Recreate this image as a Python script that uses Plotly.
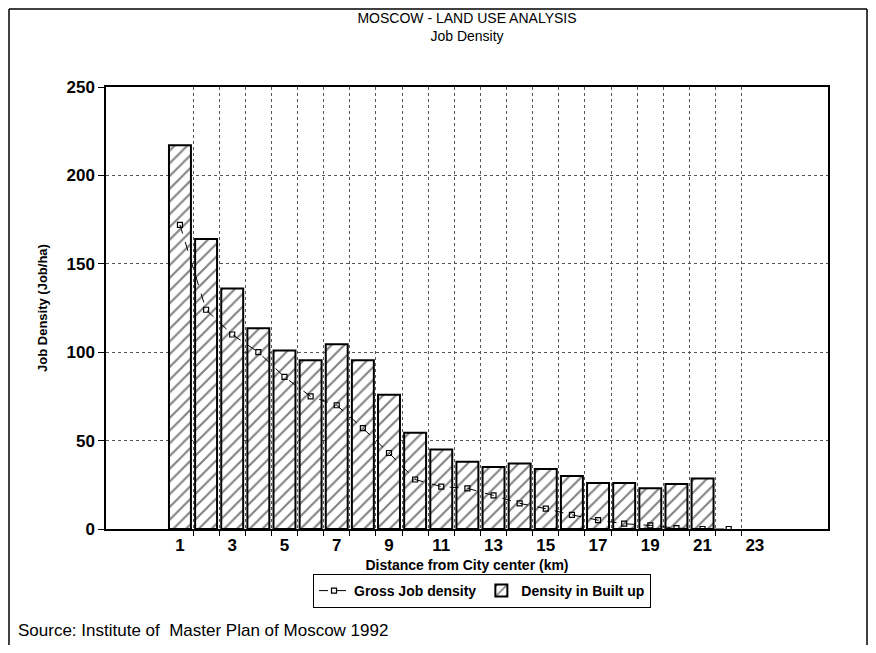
import plotly.graph_objects as go

# 距離 (km) と密度データ
distance_km = list(range(1, 23))
built_up_km = list(range(1, 22))
built_up_density = [217, 164, 136, 113.5, 101, 95.5, 104.5, 95.5, 76, 54.5, 45,
                    38, 35, 37, 34, 30, 26, 26, 23, 25.5, 28.5]
gross_density = [172, 124, 110, 100, 86, 75, 70, 57, 43, 28, 24,
                 23, 19, 14.5, 11.5, 8, 5, 3, 2, 0.5, 0, 0]
x_tick_labels = [1, 3, 5, 7, 9, 11, 13, 15, 17, 19, 21, 23]
y_tick_labels = [0, 50, 100, 150, 200, 250]

# ページの body マージン (8px) を差し引いた図のサイズ
OFF = 8
W, H = 876 - 2 * OFF, 653 - 2 * OFF
# プロット領域 (画面座標)
L, R, T, B = 106, 828, 87, 529


def px_x(px):
    return (px - L) / (R - L)


def px_y(py):
    return (B - py) / (B - T)


FONT = "Liberation Sans, Arial, sans-serif"

fig = go.Figure()

fig.add_trace(go.Scatter(
    x=distance_km,
    y=gross_density,
    name="Gross Job density",
    mode="lines+markers",
    line=dict(color="black", width=1, dash="dash"),
    marker=dict(symbol="square-open", size=5, color="black",
                line=dict(color="black", width=1.2)),
))

fig.add_trace(go.Bar(
    x=built_up_km,
    y=built_up_density,
    name="Density in Built up",
    width=0.84,
    marker=dict(
        color="white",
        line=dict(color="black", width=2),
        pattern=dict(shape="/", fgcolor="black", bgcolor="white",
                     size=9, solidity=0.22),
    ),
))

fig.update_layout(
    width=W, height=H,
    margin=dict(l=L - OFF, r=OFF + W - R, t=T - OFF, b=OFF + H - B, pad=0),
    paper_bgcolor="white",
    plot_bgcolor="white",
    font=dict(family=FONT, color="black"),
    title=dict(
        text="MOSCOW - LAND USE ANALYSIS<br>Job Density",
        x=0.5, xref="paper", xanchor="center",
        y=1 - (23 - OFF) / H, yanchor="middle",
        font=dict(size=14, family=FONT),
    ),
    showlegend=True,
    legend=dict(
        orientation="h",
        x=px_x(482), xanchor="center",
        y=px_y(574), yanchor="top",
        bordercolor="black", borderwidth=1,
        font=dict(size=14, family=FONT, weight="bold"),
        itemwidth=30,
        traceorder="normal",
    ),
    xaxis=dict(
        range=[-1.83, 25.8],
        tickvals=x_tick_labels,
        ticks="",
        showgrid=False,
        zeroline=False,
        showline=True, linecolor="black", linewidth=1.5, mirror=True,
        tickfont=dict(size=17, family=FONT, weight="bold"),
        title=dict(text="<b>Distance from City center (km)</b>",
                   font=dict(size=14, family=FONT), standoff=6),
        minor=dict(
            tickvals=[k + 0.5 for k in range(1, 23)],
            ticks="outside", ticklen=5, tickcolor="black",
            showgrid=True, gridcolor="#555", griddash="dot", gridwidth=1,
        ),
    ),
    yaxis=dict(
        range=[0, 250],
        tickvals=y_tick_labels,
        ticks="outside", ticklen=6, tickcolor="black",
        showgrid=True, gridcolor="#555", griddash="dot", gridwidth=1,
        zeroline=False,
        showline=True, linecolor="black", linewidth=1.5, mirror=True,
        tickfont=dict(size=17, family=FONT, weight="bold"),
        title=dict(text="<b>Job Density (Job/ha)</b>",
                   font=dict(size=13, family=FONT), standoff=16),
    ),
)

# 外枠 (左・上・右)
frame_l, frame_r, frame_t = OFF + 1, OFF + W - 1, OFF + 1
for x0, y0, x1, y1 in [(frame_l, frame_t, frame_l, OFF + H),
                       (frame_l, frame_t, frame_r, frame_t),
                       (frame_r, frame_t, frame_r, OFF + H)]:
    fig.add_shape(type="line", xref="paper", yref="paper",
                  x0=px_x(x0), y0=px_y(y0), x1=px_x(x1), y1=px_y(y1),
                  line=dict(color="black", width=1.5))

fig.add_annotation(
    text="Source: Institute of  Master Plan of Moscow 1992",
    xref="paper", yref="paper",
    x=px_x(16), y=px_y(630), xanchor="left", yanchor="middle",
    showarrow=False, font=dict(size=17, family=FONT),
)

fig.write_html("out.html")
